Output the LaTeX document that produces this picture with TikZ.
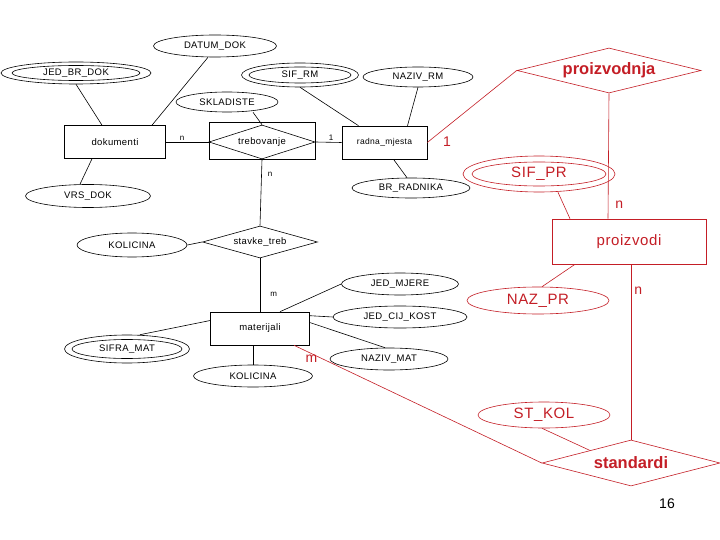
\documentclass[tikz,border=0pt]{standalone}
\usepackage{fontspec}
\setmainfont{Liberation Sans}
\newfontfamily\erfont[LetterSpace=4]{Liberation Sans}
\usetikzlibrary{shapes.geometric,calc}
\definecolor{erred}{RGB}{196,30,38}

\begin{document}
\begin{tikzpicture}[x=1pt, y=-1pt, line width=0.6pt,
    attr/.style={draw, ellipse, inner sep=0pt, font=\erfont\fontsize{9.5}{10}\selectfont},
    ring/.style={draw, ellipse, inner sep=0pt},
    entity/.style={draw, rectangle, inner sep=0pt, font=\erfont\fontsize{9.5}{10}\selectfont},
    rel/.style={draw, diamond, aspect=3.5, inner sep=0pt, font=\erfont\fontsize{9.5}{10}\selectfont},
    card/.style={inner sep=1pt, font=\fontsize{8}{9}\selectfont},
    redattr/.style={attr, erred, font=\erfont\fontsize{15}{17}\selectfont},
    redring/.style={ring, erred},
    redrel/.style={rel, erred, aspect=4, font=\fontsize{16.5}{18}\selectfont\bfseries},
    redcard/.style={inner sep=1pt, text=erred, font=\fontsize{14}{16}\selectfont}]
    \useasboundingbox[fill=white] (0,0) rectangle (720,540);

    % Attributes
    \node[attr, minimum width=123pt, minimum height=22pt] (datumdok) at (215,46) {DATUM\_DOK};
    \node[attr, minimum width=150pt, minimum height=22pt] (jedbrdok) at (76,73) {JED\_BR\_DOK};
    \node[ring, minimum width=128pt, minimum height=15pt] (jedbrdokin) at (76,73) {};
    \node[attr, minimum width=117pt, minimum height=24pt] (sifrm) at (300,75) {SIF\_RM};
    \node[ring, minimum width=102pt, minimum height=16pt] (sifrmin) at (300,75) {};
    \node[attr, minimum width=110pt, minimum height=20pt] (nazivrm) at (418,77) {NAZIV\_RM};
    \node[attr, minimum width=102pt, minimum height=20pt] (skladiste) at (227,102) {SKLADISTE};
    \node[attr, minimum width=118pt, minimum height=20pt] (brradnika) at (411,188) {BR\_RADNIKA};
    \node[attr, minimum width=125pt, minimum height=23pt] (vrsdok) at (88,196) {VRS\_DOK};
    \node[attr, minimum width=110pt, minimum height=24pt] (kolicinatreb) at (132,245) {KOLICINA};
    \node[attr, minimum width=117pt, minimum height=22pt] (jedmjere) at (400,284) {JED\_MJERE};
    \node[attr, minimum width=134pt, minimum height=22pt] (jedcijkost) at (400,317) {JED\_CIJ\_KOST};
    \node[attr, minimum width=125pt, minimum height=28pt] (sifra) at (127,349) {SIFRA\_MAT};
    \node[ring, minimum width=110pt, minimum height=19pt] (sifrain) at (127,349) {};
    \node[attr, minimum width=118pt, minimum height=22pt] (nazivmat) at (389,359) {NAZIV\_MAT};
    \node[attr, minimum width=119pt, minimum height=22pt] (kolicinamat) at (253,376) {KOLICINA};

    % Entities and relationships
    \node[entity, minimum width=101pt, minimum height=33pt] (dokumenti) at (115,142) {dokumenti};
    \node[entity, minimum width=106pt, minimum height=37pt] (trebbox) at (262,140.5) {};
    \node[rel, aspect=3, minimum width=106pt, minimum height=34pt] (trebovanje) at (262,142) {trebovanje};
    \node[entity, minimum width=85pt, minimum height=33pt, font=\erfont\fontsize{8.5}{9}\selectfont] (radna) at (384.5,142.5) {radna\_mjesta};
    \node[rel, minimum width=115pt, minimum height=32pt] (stavke) at (260,242) {stavke\_treb};
    \node[entity, minimum width=99pt, minimum height=33pt] (materijali) at (260,328.5) {materijali};

    % Red part
    \node[redrel, minimum width=184pt, minimum height=45pt] (proizvodnja) at (609,70.5) {proizvodnja};
    \node[redattr, minimum width=152pt, minimum height=36pt] (sifpr) at (539,174) {SIF\_PR};
    \node[redring, minimum width=134pt, minimum height=24pt] (sifprin) at (539,174) {};
    \node[entity, erred, minimum width=154pt, minimum height=45pt, font=\erfont\fontsize{15}{17}\selectfont] (proizvodi) at (629,241.5) {proizvodi};
    \node[redattr, minimum width=142pt, minimum height=27pt] (nazpr) at (538,300.5) {NAZ\_PR};
    \node[redattr, minimum width=132pt, minimum height=26pt] (stkol) at (544,415) {ST\_KOL};
    \node[redrel, aspect=3.9, minimum width=178pt, minimum height=46pt] (standardi) at (631,463) {standardi};

    % Edges
    \draw (jedbrdok.south) -- ([xshift=-13pt]dokumenti.north);
    \draw ([xshift=-7pt]datumdok.south) -- ([xshift=37pt]dokumenti.north);
    \draw ([xshift=-8pt]vrsdok.north) -- ([xshift=-23pt]dokumenti.south);
    \draw ([xshift=26pt]skladiste.south) -- (trebovanje.north);
    \draw (sifrm.south) -- ([xshift=-26pt]radna.north);
    \draw (nazivrm.south) -- ([xshift=23pt]radna.north);
    \draw ([xshift=9pt]radna.south) -- ([xshift=-4pt]brradnika.north);
    \draw (kolicinatreb.east) -- (stavke.west);
    \draw ([xshift=20pt]materijali.north) -- (jedmjere.west);
    \draw ([yshift=-4pt]materijali.north east) -- (jedcijkost.west);
    \draw ([yshift=6pt]materijali.east) -- ([xshift=-4pt]nazivmat.north);
    \draw ([xshift=-7pt]materijali.south) -- (kolicinamat.north);
    \draw ([xshift=13pt]sifra.north) -- ([yshift=8pt]materijali.west);

    % Edges with labels
    \draw (dokumenti.east) -- (trebovanje.west) node[card, pos=0.38, above] (cardtreb) {n};
    \draw (trebovanje.east) -- (radna.west) node[card, pos=0.6, above] (cardradna) {1};
    \draw (trebovanje.south) -- (stavke.north) node[card, pos=0.22, right=5pt] (cardstavke) {n};
    \draw (stavke.south) -- (materijali.north) node[card, pos=0.67, right=9pt] (cardmat) {m};

    % Red edges
    \begin{scope}[erred]
    \draw (radna.east) -- (proizvodnja.west);
    \node[redcard] (cardproizvodnja) at (447,142) {1};
    \draw (proizvodnja.south) -- ([xshift=-21pt]proizvodi.north) node[redcard, pos=0.89, right=6pt] (cardproizvodi) {n};
    \draw ([xshift=19pt]sifpr.south) -- ([xshift=-59pt]proizvodi.north);
    \draw ([xshift=4pt]nazpr.north) -- ([xshift=-54pt]proizvodi.south);
    \draw ([xshift=2pt]proizvodi.south) -- (standardi.north) node[redcard, pos=0.15, right=2pt] (cardstandardi) {n};
    \draw ([xshift=-2pt]stkol.south) -- ($(standardi.west)!0.54!(standardi.north)$);
    \draw ([xshift=34pt]materijali.south) -- (standardi.west) node[redcard, pos=0.07, below] (cardmatstd) {m};
    \end{scope}

    % Page number
    \node[font=\fontsize{14}{16}\selectfont] (pagenum) at (667,504) {16};
\end{tikzpicture}
\end{document}
